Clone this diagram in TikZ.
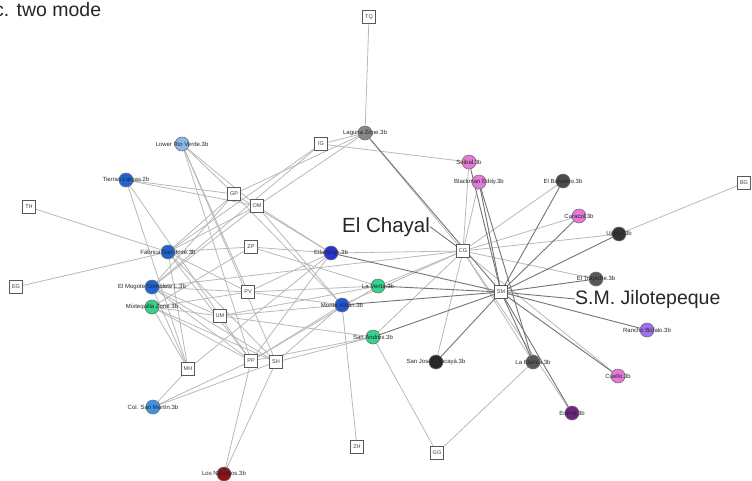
\documentclass[tikz,border=0pt]{standalone}
\usepackage{fontspec}
\setmainfont{Liberation Sans}
\pgfdeclarelayer{background}
\pgfsetlayers{background,main}
\definecolor{sitebluemid}{RGB}{32,100,212}
\definecolor{sitebluelight}{RGB}{135,185,238}
\definecolor{siteblueSky}{RGB}{60,150,230}
\definecolor{sitegreen}{RGB}{50,212,140}
\definecolor{sitedarkred}{RGB}{140,20,20}
\definecolor{siteindigo}{RGB}{40,50,215}
\definecolor{sitealban}{RGB}{35,85,218}
\definecolor{sitegrey}{RGB}{135,135,135}
\definecolor{sitepink}{RGB}{230,120,218}
\definecolor{sitepurple}{RGB}{160,110,238}
\definecolor{sitedarkpurple}{RGB}{110,35,130}
\newcommand\sitenode[4]{%
  \node[site,fill=#4] (#1) at (#2) {};
  \node[sitelabel] (#1t) at (#2) {#3};}
\begin{document}
\begin{tikzpicture}[x=1pt,y=-1pt,
  src/.style={draw=black!65,fill=white,line width=0.8pt,minimum size=13pt,
    inner sep=0pt,font=\fontsize{5.5}{5.5}\selectfont,text=black!75},
  site/.style={circle,draw=black!55,line width=0.6pt,minimum size=14pt,inner sep=0pt},
  sitelabel/.style={font=\fontsize{6}{6}\selectfont,text=black!85,inner sep=0pt},
  tie/.style={draw=black!28,line width=0.8pt},
  tiedark/.style={draw=black!55,line width=0.9pt},
  bigtext/.style={font=\fontsize{19.5}{20}\selectfont,text=black!85,inner sep=0pt,anchor=base west}]
\useasboundingbox (0,0) rectangle (752,480);

% title
\node[bigtext] (title) at (-6,16.5) {c. two mode};

% obsidian sources
\node[src] (tq) at (369,17) {TQ};
\node[src] (ig) at (321,144) {IG};
\node[src] (gp) at (234,194) {GP};
\node[src] (om) at (257,206) {OM};
\node[src] (zp) at (251,247) {ZP};
\node[src] (pv) at (248,292) {PV};
\node[src] (um) at (220,316) {UM};
\node[src] (mh) at (188,369) {MH};
\node[src] (pp) at (251,361) {PP};
\node[src] (sh) at (276,362) {SH};
\node[src] (th) at (29,207) {TH};
\node[src] (eg) at (16,287) {EG};
\node[src] (zh) at (357,447) {ZH};
\node[src] (gg) at (437,453) {GG};
\node[src] (cg) at (463,251) {CG};
\node[src] (sm) at (501,292) {SM};
\node[src] (bg) at (744,183) {BG};

% sites
\sitenode{lrv}{182,144}{Lower Rio Verde.3b}{sitebluelight}
\sitenode{tl}{126,180}{Tierras Largas.2b}{sitebluemid}
\sitenode{fsj}{168,252}{Fábrica San José.3b}{sitebluemid}
\sitenode{emg}{152,287}{El Mogote Complete L.3b}{sitebluemid}
\sitenode{mix}{152,307}{Mixtequilla Zone.3b}{sitegreen}
\sitenode{csm}{153,407}{Col. San Martín.3b}{siteblueSky}
\sitenode{lnj}{224,474}{Los Naranjos.3b}{sitedarkred}
\sitenode{esc}{331,253}{Etlatongo.3b}{siteindigo}
\sitenode{lv}{378,286}{La Venta.3b}{sitegreen}
\sitenode{ma}{342,305}{Monte Albán.3b}{sitealban}
\sitenode{sa}{373,337}{San Andrés.3b}{sitegreen}
\sitenode{lz}{365,133}{Laguna Zope.3b}{sitegrey}
\sitenode{seb}{469,162}{Seibal.3b}{sitepink}
\sitenode{be}{479,182}{Blackman Eddy.3b}{sitepink}
\sitenode{eb}{563,181}{El Balsamo.3b}{black!70}
\sitenode{car}{579,216}{Caracol.3b}{sitepink}
\sitenode{uax}{619,234}{Ujuxte.3b}{black!80}
\sitenode{eti}{596,279}{El Trapiche.3b}{black!65}
\sitenode{rb}{647,330}{Rancho Búfalo.3b}{sitepurple}
\sitenode{col}{618,376}{Cuello.3b}{sitepink}
\sitenode{ekb}{572,413}{Edzna.3b}{sitedarkpurple}
\sitenode{lb}{533,362}{La Blanca.3b}{black!65}
\sitenode{sjc}{436,362}{San José Chacayá.3b}{black!85}

% region labels
\node[bigtext,font=\fontsize{20.5}{21}\selectfont] (chayal) at (342,232) {El Chayal};
\node[bigtext] (jilo) at (575,304) {S.M. Jilotepeque};

\begin{pgfonlayer}{background}
\foreach \a/\b in {lz/tq,lz/gp,lz/om,lz/cg,lz/ig,ig/seb,ig/fsj,ig/emg,
  lrv/gp,lrv/om,lrv/pv,lrv/pp,lrv/sh,
  tl/gp,tl/om,tl/pp,tl/mh,
  fsj/th,fsj/eg,fsj/gp,fsj/om,fsj/zp,fsj/pv,fsj/pp,fsj/sh,fsj/mh,
  emg/gp,emg/om,emg/pv,emg/um,emg/pp,emg/sh,emg/mh,emg/cg,
  mix/um,mix/mh,mix/pp,mix/pv,mix/sh,mix/zp,
  csm/mh,csm/pp,csm/sh,lnj/pp,lnj/sh,
  esc/om,esc/gp,esc/zp,esc/pp,esc/mh,esc/pv,esc/cg,
  ma/om,ma/gp,ma/pv,ma/um,ma/pp,ma/sh,ma/zh,ma/cg,
  lv/pv,lv/um,lv/pp,lv/cg,lv/zp,
  sa/pp,sa/sh,sa/um,sa/cg,sa/gg,
  seb/cg,be/cg,eb/cg,car/cg,uax/cg,uax/bg,eti/cg,col/cg,ekb/cg,lb/cg,lb/gg,sjc/cg}
  \draw[tie] (\a) -- (\b);
\foreach \a/\b in {lz/sm,esc/sm,ma/sm,lv/sm,sa/sm,seb/sm,be/sm,eb/sm,car/sm,
  uax/sm,eti/sm,rb/sm,col/sm,ekb/sm,lb/sm,sjc/sm,be/lb}
  \draw[tiedark] (\a) -- (\b);
\draw[tiedark] (chayal.east) -- (cg);
\draw[tiedark] (jilo.west) -- (sm);
\end{pgfonlayer}
\end{tikzpicture}
\end{document}
